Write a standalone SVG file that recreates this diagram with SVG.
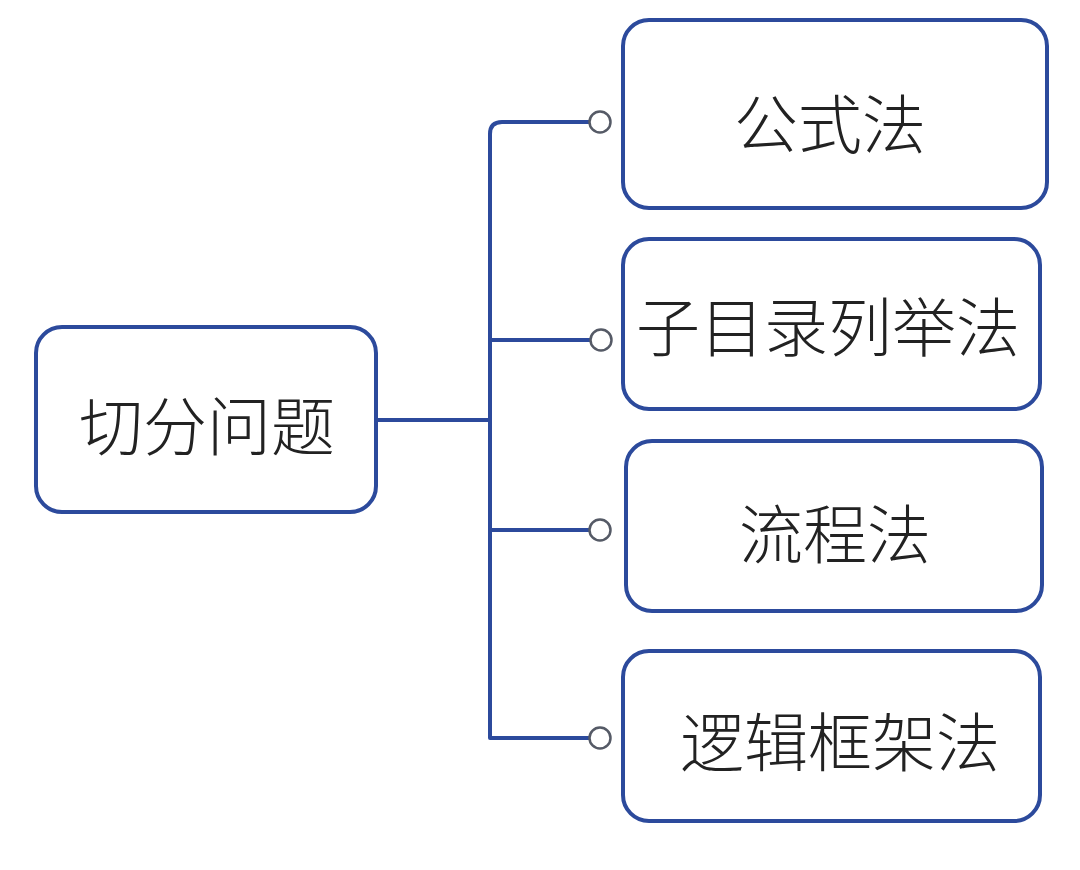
<svg xmlns="http://www.w3.org/2000/svg" width="1080" height="870" viewBox="0 0 1080 870">
<style>
.box{fill:#fff;stroke:#2c4a9c;stroke-width:4}
.lbl{font-family:"Noto Sans CJK SC","Noto Sans",sans-serif;font-size:64px;font-weight:300;fill:#222;text-anchor:middle;dominant-baseline:central}
.ln{fill:none;stroke:#2c4a9c;stroke-width:4;stroke-linejoin:round}
.dot{fill:#fff;stroke:#555a66;stroke-width:2.5}
</style>
<rect width="1080" height="870" fill="#fff"/>
<g id="connectors">
<path class="ln" d="M378,420 H490"/>
<path class="ln" d="M590,122 H502 Q490,122 490,134 V738 H590"/>
<path class="ln" d="M490,340 H590"/>
<path class="ln" d="M490,530 H590"/>
<circle class="dot" cx="600" cy="122" r="10.5"/>
<circle class="dot" cx="601" cy="340" r="10.5"/>
<circle class="dot" cx="600" cy="530" r="10.5"/>
<circle class="dot" cx="600" cy="738" r="10.5"/>
</g>
<g id="root">
<rect class="box" x="36" y="327" width="340" height="185" rx="26"/>
<text class="lbl" x="207" y="422">切分问题</text>
</g>
<g id="n1">
<rect class="box" x="623" y="20" width="424" height="188" rx="26"/>
<text class="lbl" x="830" y="120">公式法</text>
</g>
<g id="n2">
<rect class="box" x="623" y="239" width="417" height="170" rx="26"/>
<text class="lbl" x="828" y="323">子目录列举法</text>
</g>
<g id="n3">
<rect class="box" x="626" y="441" width="416" height="170" rx="26"/>
<text class="lbl" x="835" y="530">流程法</text>
</g>
<g id="n4">
<rect class="box" x="623" y="651" width="417" height="170" rx="26"/>
<text class="lbl" x="840" y="738">逻辑框架法</text>
</g>
</svg>
